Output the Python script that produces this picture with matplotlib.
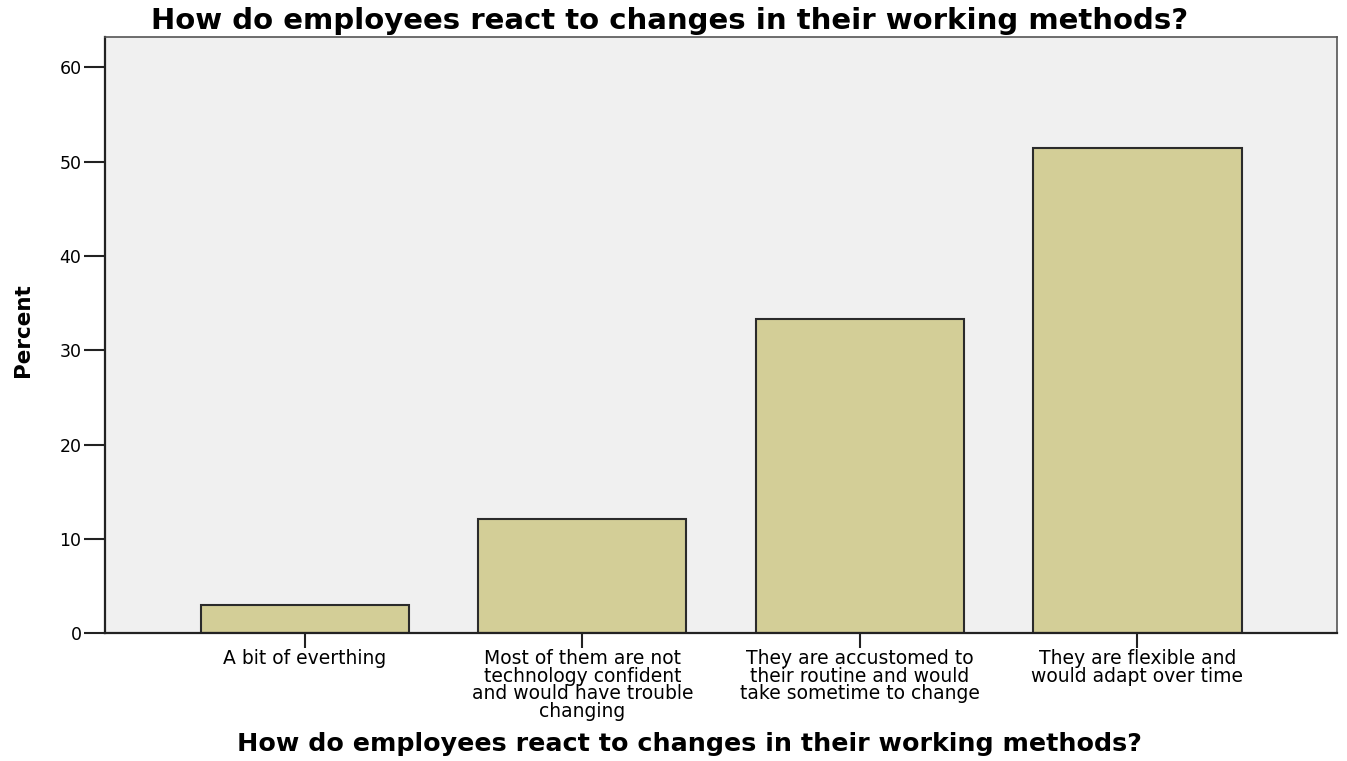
import matplotlib
matplotlib.use('Agg')
import matplotlib.pyplot as plt
import numpy as np

# data
categories = ['A bit of everthing',
              'Most of them are not\ntechnology confident\nand would have trouble\nchanging',
              'They are accustomed to\ntheir routine and would\ntake sometime to change',
              'They are flexible and\nwould adapt over time']
percent = [3.0, 12.1, 33.3, 51.5]
yticks = [0, 10, 20, 30, 40, 50, 60]
title = 'How do employees react to changes in their working methods?'

plt.rcParams['font.family'] = ['DejaVu Sans']

fig = plt.figure(figsize=(13.47, 7.61), dpi=100)
ax = fig.add_axes([0.078, 0.168, 0.9148, 0.783])
ax.set_facecolor('#f0f0f0')

x = np.arange(len(categories))
ax.bar(x, percent, width=0.75, color='#d3ce97', edgecolor='#2b2b2b', linewidth=1.5)

ax.set_xlim(-0.72, 3.72)
ax.set_ylim(0, 63.2)
ax.set_yticks(yticks)
ax.set_xticks(x)
ax.set_xticklabels(categories, fontsize=13.5, linespacing=0.9)
ax.tick_params(axis='y', labelsize=12.5, length=15, width=1.5, color='#222222', pad=2)
ax.tick_params(axis='x', length=11, width=1.5, color='#222222', pad=0.5)

for s in ax.spines.values():
    s.set_color('#555555')
    s.set_linewidth(1.2)
ax.spines['left'].set_color('#222222')
ax.spines['bottom'].set_color('#222222')
ax.spines['left'].set_linewidth(1.6)
ax.spines['bottom'].set_linewidth(1.6)

fig.text(0.497, 0.972, title, ha='center', va='center', fontsize=21,
         fontweight='bold')
fig.text(0.5115, 0.022, title, ha='center', va='center', fontsize=18.3,
         fontweight='bold')
fig.text(0.017, 0.566, 'Percent', ha='center', va='center', rotation=90,
         fontsize=15.5, fontweight='bold')

fig.savefig('out.png', dpi=100)
